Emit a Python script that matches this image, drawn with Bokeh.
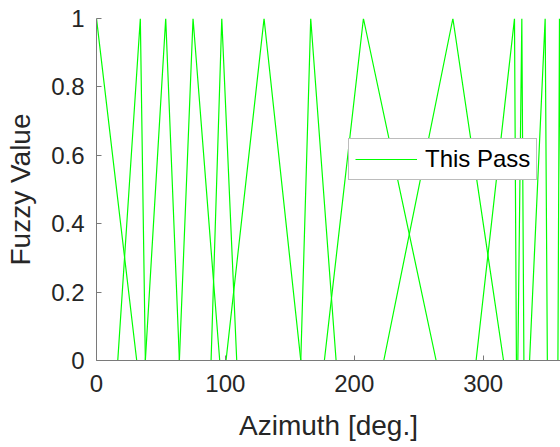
from bokeh.plotting import figure
from bokeh.models import Range1d, FixedTicker
from bokeh.embed import file_html
from bokeh.resources import INLINE

# Triangular fuzzy sets (azimuth, degrees)
left_feet = [-31.2, 16.5, 37.9, 64.3, 88.9, 100.5, 158.5, 176.8, 222.9, 294.5, 326.9, 336.0, 358.0]
peaks = [0.0, 34.0, 53.7, 74.9, 97.2, 130.0, 166.2, 207.1, 276.5, 324.3, 330.0, 348.1, 359.2]
right_feet = [31.2, 37.9, 64.3, 95.6, 108.8, 158.5, 185.9, 263.5, 315.8, 325.8, 331.6, 349.8, 361.0]
membership = [0, 1, 0]

x_ticks = [0, 100, 200, 300]
y_ticks = [0, 0.2, 0.4, 0.6, 0.8, 1]
y_tick_labels = ["0", "0.2", "0.4", "0.6", "0.8", "1"]

xs = [[l, c, r] for l, c, r in zip(left_feet, peaks, right_feet)]
ys = [list(membership) for _ in xs]

FONT = "Liberation Sans"
AX = "#7a7a7a"
TXT = "#262626"

p = figure(width=560, height=447, output_backend="svg", toolbar_location=None,
           x_range=Range1d(0, 360), y_range=Range1d(0, 1),
           min_border_left=96, min_border_right=0, min_border_top=18, min_border_bottom=87)
p.outline_line_color = None
p.grid.visible = False
p.background_fill_color = "white"
p.border_fill_color = "white"

p.multi_line(xs, ys, line_color="#00ff00", line_width=1.2, legend_label="This Pass")

p.xaxis.ticker = FixedTicker(ticks=x_ticks)
p.yaxis.ticker = FixedTicker(ticks=y_ticks)
p.yaxis.major_label_overrides = {t: s for t, s in zip(y_ticks, y_tick_labels)}

p.axis.axis_line_color = AX
p.axis.axis_line_width = 1
p.axis.major_tick_line_color = AX
p.axis.major_tick_in = 5
p.axis.major_tick_out = 0
p.axis.minor_tick_in = 0
p.axis.minor_tick_out = 0
p.axis.major_label_text_font = FONT
p.axis.major_label_text_font_size = "24px"
p.axis.major_label_text_color = TXT
p.axis.axis_label_text_font = FONT
p.axis.axis_label_text_font_size = "28px"
p.axis.axis_label_text_font_style = "normal"
p.axis.axis_label_text_color = TXT

p.xaxis.axis_label = "Azimuth [deg.]"
p.yaxis.axis_label = "Fuzzy Value"
p.xaxis.major_label_standoff = 14
p.xaxis.axis_label_standoff = 15
p.yaxis.major_label_standoff = 12
p.yaxis.axis_label_standoff = 12

lg = p.legend[0]
lg.location = (252, 180)
lg.border_line_color = AX
lg.border_line_width = 1
lg.background_fill_color = "white"
lg.background_fill_alpha = 1
lg.padding = 6
lg.margin = 0
lg.spacing = 0
lg.glyph_width = 62
lg.label_standoff = 8
lg.label_text_font = FONT
lg.label_text_font_size = "24px"
lg.label_text_color = "black"

open("out.html", "w").write(file_html(p, INLINE))
